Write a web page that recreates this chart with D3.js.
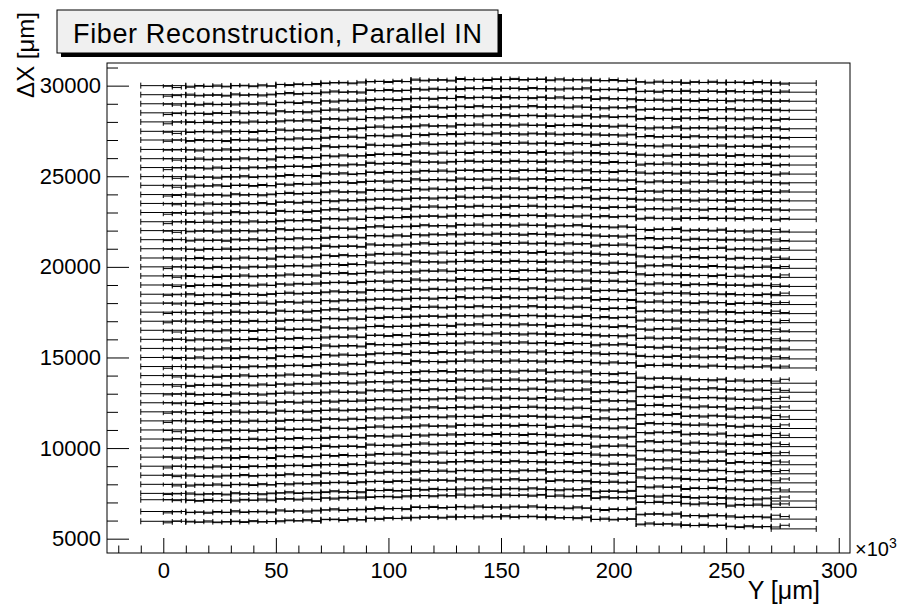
<!DOCTYPE html>
<html>
<head>
<meta charset="utf-8">
<script src="https://cdn.jsdelivr.net/npm/d3@7"></script>
<style>
  html, body { margin: 0; padding: 0; background: #fff; }
  svg { display: block; font-family: "Liberation Sans", Arial, Helvetica, sans-serif; }
</style>
</head>
<body>
<div id="chart"></div>
<script>
// Fiber reconstruction, parallel IN — ROOT-style TGraphErrors look

// ΔX of each fiber row at the left-most segment (μm), top to bottom
const rowBase = [
  30000, 29500, 29000, 28500, 28000, 27480, 27000, 26480, 25970, 25480,
  24980, 24500, 23990, 23500, 23000, 22490, 22000, 21500, 21000, 20490,
  20000, 19500, 19000, 18490, 18000, 17500, 17000, 16500, 16000, 15500,
  15000, 14500, 14000, 13500, 13000, 12500, 12000, 11500, 11000, 10500,
  10000, 9500, 9000, 8500, 8000, 7500, 7150, 6500, 5960
];

// coarse segments: start of each 20k-wide Y segment (×10^3 μm)
const segStarts = [-10, 10, 30, 50, 70, 90, 110, 130, 150, 170, 190, 210, 230, 250, 270];

// bow of the rows along Y, per segment (μm), for top / middle / bottom rows
const shapeTop = [0, -30, -10, 60, 150, 230, 300, 340, 340, 320, 280, 190, 180, 170, 140];
const shapeMid = [0, -30, -10, 50, 130, 210, 270, 300, 300, 270, 200, 60, 20, -20, -80];
const shapeBot = [0, -40, -20, 30, 90, 160, 220, 250, 250, 200, 110, -150, -230, -300, -420];

// fine points inside a segment (offset of centre from segment start)
const fineSlots = [2, 6, 10, 14, 18];
const fineFirst = [12, 16];   // first segment only covers 0..8
const fineLast = [2, 6];      // last segment only covers 270..278
const fineErr = 2;
// small scatter of fine points around the coarse bar (μm)
const fineScatter = [30, -45, 55, -20, 10, -55, 40, -10, 60, -35, 20];
const firstShift = { top: -60, mid: -40, bot: -40 };
const lastShift = { top: 0, mid: 80, bot: 160 };

const xMajor = [0, 50, 100, 150, 200, 250, 300];
const xMinor = [-20, -10, 10, 20, 30, 40, 60, 70, 80, 90, 110, 120, 130, 140, 160, 170, 180, 190, 210, 220, 230, 240, 260, 270, 280, 290];
const yMajor = [5000, 10000, 15000, 20000, 25000, 30000];
const yMinor = [6000, 7000, 8000, 9000, 11000, 12000, 13000, 14000, 16000, 17000, 18000, 19000, 21000, 22000, 23000, 24000, 26000, 27000, 28000, 29000, 31000];

const W = 902, H = 606;
const frame = { left: 107, right: 850, top: 63, bottom: 553 };

const x = d3.scaleLinear().domain([-25, 305]).range([frame.left, frame.right]);
const y = d3.scaleLinear().domain([4210, 31250]).range([frame.bottom, frame.top]);

const svg = d3.select('#chart').append('svg')
  .attr('width', W).attr('height', H);

svg.append('rect').attr('width', W).attr('height', H).attr('fill', '#fff');

// data points
const marks = svg.append('g').attr('stroke', '#000').attr('stroke-width', 1).attr('fill', 'none');

function groupOf(r) {
  if (r < 16) return 'top';
  if (r < 32) return 'mid';
  return 'bot';
}
const shapes = { top: shapeTop, mid: shapeMid, bot: shapeBot };

function errBar(g, x0, x1, yv, cap) {
  const py = y(yv);
  g.append('line').attr('x1', x(x0)).attr('x2', x(x1)).attr('y1', py).attr('y2', py);
  g.append('line').attr('x1', x(x0)).attr('x2', x(x0)).attr('y1', py - cap).attr('y2', py + cap);
  g.append('line').attr('x1', x(x1)).attr('x2', x(x1)).attr('y1', py - cap).attr('y2', py + cap);
}

rowBase.forEach((base, r) => {
  const grp = groupOf(r);
  const shape = shapes[grp];
  segStarts.forEach((s, j) => {
    const coarse = base + shape[j];
    errBar(marks, s, s + 20, coarse, 3);
    let slots = fineSlots;
    let shift = 0;
    if (j === 0) { slots = fineFirst; shift = firstShift[grp]; }
    if (j === segStarts.length - 1) { slots = fineLast; shift = lastShift[grp]; }
    slots.forEach((o, k) => {
      const c = s + o;
      const v = coarse + shift + fineScatter[(r * 3 + j * 5 + k) % fineScatter.length];
      errBar(marks, c - fineErr, c + fineErr, v, 2);
    });
  });
});

// frame
svg.append('rect')
  .attr('x', frame.left).attr('y', frame.top)
  .attr('width', frame.right - frame.left).attr('height', frame.bottom - frame.top)
  .attr('fill', 'none').attr('stroke', '#000').attr('stroke-width', 1);

// axes (ROOT draws ticks inside the frame)
const fontSize = 22;
const yAx = svg.append('g').attr('transform', `translate(${frame.left},0)`)
  .call(d3.axisLeft(y).tickValues(yMajor).tickSize(-22).tickPadding(6).tickFormat(d3.format('d')));
const yAxMin = svg.append('g').attr('transform', `translate(${frame.left},0)`)
  .call(d3.axisLeft(y).tickValues(yMinor).tickSize(-11).tickFormat(''));
const xAx = svg.append('g').attr('transform', `translate(0,${frame.bottom})`)
  .call(d3.axisBottom(x).tickValues(xMajor).tickSize(-15).tickPadding(9).tickFormat(d3.format('d')));
const xAxMin = svg.append('g').attr('transform', `translate(0,${frame.bottom})`)
  .call(d3.axisBottom(x).tickValues(xMinor).tickSize(-7.5).tickFormat(''));

[yAx, yAxMin, xAx, xAxMin].forEach(a => {
  a.select('.domain').remove();
  a.selectAll('line').attr('stroke', '#000');
  a.selectAll('text').attr('font-size', fontSize).attr('fill', '#000')
    .attr('font-family', '"Liberation Sans", Arial, sans-serif');
});

// x axis exponent
const expo = svg.append('text').attr('x', 855).attr('y', 556)
  .attr('font-size', 20).attr('fill', '#000');
expo.append('tspan').text('×10');
expo.append('tspan').attr('font-size', 14).attr('dy', -8).text('3');

// axis titles
svg.append('text')
  .attr('x', 820).attr('y', 599)
  .attr('text-anchor', 'end').attr('font-size', 25).attr('fill', '#000')
  .text('Y [μm]');

svg.append('text')
  .attr('transform', 'translate(34,12) rotate(-90)')
  .attr('text-anchor', 'end').attr('font-size', 24).attr('fill', '#000')
  .text('ΔX [μm]');

// title box with shadow
const tb = { x: 57, y: 10, w: 441, h: 43 };
svg.append('rect').attr('x', tb.x + 4).attr('y', tb.y + 4).attr('width', tb.w).attr('height', tb.h).attr('fill', '#000');
svg.append('rect').attr('x', tb.x).attr('y', tb.y).attr('width', tb.w).attr('height', tb.h)
  .attr('fill', '#f0f0f0').attr('stroke', '#000').attr('stroke-width', 1);
svg.append('text')
  .attr('x', tb.x + tb.w / 2).attr('y', 43)
  .attr('text-anchor', 'middle').attr('font-size', 27).attr('fill', '#000')
  .attr('textLength', 409).attr('lengthAdjust', 'spacing')
  .text('Fiber Reconstruction, Parallel IN');
</script>
</body>
</html>
